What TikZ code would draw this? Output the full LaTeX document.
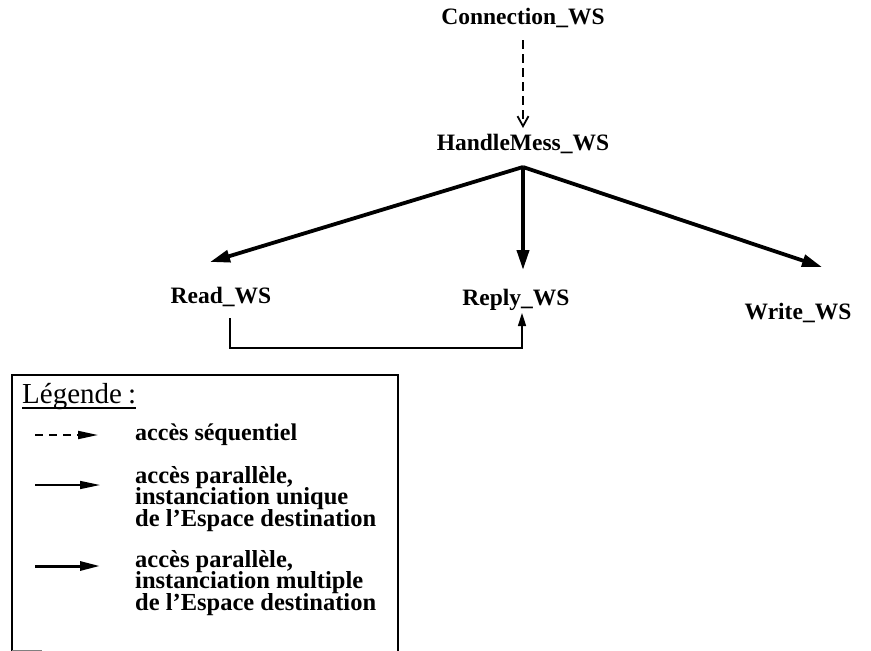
\documentclass[tikz,border=0pt]{standalone}
\usepackage{fontspec}
\setmainfont{Liberation Serif}
\usetikzlibrary{arrows.meta}
% allow lines closer than their glyph heights
\newcommand\tightlines{\lineskiplimit=-30pt\relax}
\begin{document}
\begin{tikzpicture}[x=1pt,y=-1pt,
  lbl/.style={font=\fontsize{23.5}{23.5}\selectfont\bfseries, inner sep=0pt, anchor=base},
  legtext/.style={font=\fontsize{24.5}{21.5}\selectfont\bfseries\tightlines, inner sep=0pt, align=left, anchor=base west},
  seqarrow/.style={line width=2.4pt, dash pattern=on 9pt off 5pt, -{Straight Barb[length=10pt,width=11pt,line width=1.8pt]}},
  multarrow/.style={line width=3.8pt, -{Triangle[length=20pt,width=12pt]}},
  unarrow/.style={line width=1.6pt, -{Triangle[length=13pt,width=8pt]}},
  legseq/.style={line width=1.8pt, dash pattern=on 8pt off 6pt, -{Triangle[length=20pt,width=8pt]}},
  legun/.style={line width=1.5pt, -{Triangle[length=20pt,width=8pt]}},
  legmult/.style={line width=3pt, -{Triangle[length=20pt,width=9pt]}}]
\useasboundingbox (0,0) rectangle (871,651);

% process nodes (placed by baseline)
\node[lbl] (conn) at (523,24) {Connection\_WS};
\node[lbl] (hand) at (523,150) {HandleMess\_WS};
\node[lbl] (read) at (221,303) {Read\_WS};
\node[lbl] (reply) at (516,305) {Reply\_WS};
\node[lbl] (write) at (798,319) {Write\_WS};

% sequential access
\draw[seqarrow] ([shift={(0,16)}]conn.base) -- ([shift={(0,-22)}]hand.base);

% parallel accesses from HandleMess_WS
\coordinate (apex) at ([shift={(0,17)}]hand.base);
\draw[multarrow] (apex) -- ([shift={(-11,-41)}]read.base);
\draw[multarrow] (apex) -- ([yshift=35pt]reply.base -| apex);
\draw[multarrow] (apex) -- ([shift={(24,-52)}]write.base);

% Read_WS to Reply_WS
\coordinate (bend) at ([shift={(6,43)}]reply.base);
\draw[unarrow] ([shift={(9,15)}]read.base) |- (bend) -- ([shift={(6,8)}]reply.base);

% legend frame, open at the bottom edge of the page
\draw[line width=1.4pt] (12,651) -- (12,375) -- (398,375) -- (398,651);
\draw[line width=1pt, gray] (12,650) -- (42,650);

\node[font=\fontsize{29}{29}\selectfont, inner sep=0pt, anchor=base west] (legtitle) at (22,403) {Légende\hspace{6pt}:};
\draw[line width=1.6pt] ([yshift=-5pt]legtitle.base west) -- ([yshift=-5pt]legtitle.base east);

\coordinate (s1) at (35,435);
\coordinate (e1) at (98,435);
\draw[legseq] (s1) -- (e1);
\node[legtext, font=\fontsize{24}{21.5}\selectfont\bfseries] (t1) at (135,440) {accès séquentiel};

\coordinate (s2) at (35,485);
\coordinate (e2) at (100,485);
\draw[legun] (s2) -- (e2);
\node[legtext] (t2) at (135,526) {accès parallèle,\\instanciation unique\\de l’Espace destination};

\coordinate (s3) at (35,566);
\coordinate (e3) at (100,566);
\draw[legmult] (s3) -- (e3);
\node[legtext] (t3) at (135,610) {accès parallèle,\\instanciation multiple\\de l’Espace destination};
\end{tikzpicture}
\end{document}
